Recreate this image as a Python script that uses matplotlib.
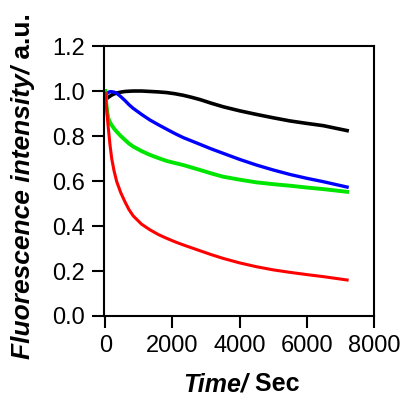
import matplotlib
matplotlib.use("Agg")
import matplotlib.pyplot as plt

time_s = [0, 20, 40, 65, 90, 140, 190, 260, 340, 460, 590, 700, 830, 1080, 1330, 1580,
          1830, 2070, 2320, 2570, 2820, 3150, 3510, 4000, 4500, 5000, 5500, 6000, 6490, 7200]
red = [0.99, 0.95, 0.92, 0.875, 0.834, 0.76, 0.70, 0.645, 0.597, 0.548, 0.506, 0.474, 0.445,
       0.408, 0.383, 0.362, 0.345, 0.330, 0.316, 0.303, 0.29, 0.273, 0.256, 0.236, 0.219,
       0.205, 0.194, 0.184, 0.175, 0.16]
green = [1.0, 0.96, 0.93, 0.90, 0.879, 0.86, 0.848, 0.833, 0.819, 0.80, 0.782, 0.767, 0.753,
         0.733, 0.716, 0.702, 0.689, 0.680, 0.671, 0.66, 0.649, 0.634, 0.619, 0.606, 0.594,
         0.586, 0.579, 0.571, 0.564, 0.552]
blue = [0.975, 0.982, 0.987, 0.991, 0.994, 0.997, 0.997, 0.995, 0.99, 0.975, 0.957, 0.94,
        0.923, 0.896, 0.871, 0.85, 0.83, 0.811, 0.793, 0.778, 0.763, 0.743, 0.723, 0.696,
        0.671, 0.649, 0.629, 0.612, 0.597, 0.573]
black = [0.965, 0.966, 0.967, 0.969, 0.972, 0.977, 0.982, 0.987, 0.991, 0.995, 0.998, 0.999,
         1.0, 1.0, 0.998, 0.996, 0.993, 0.988, 0.981, 0.972, 0.962, 0.946, 0.93, 0.912,
         0.896, 0.881, 0.867, 0.856, 0.846, 0.824]

xticks = [0, 2000, 4000, 6000, 8000]
yticks = [0.0, 0.2, 0.4, 0.6, 0.8, 1.0, 1.2]

plt.rcParams['font.family'] = ['Liberation Sans', 'DejaVu Sans']

fig = plt.figure(figsize=(4.03, 3.95), dpi=100)
ax = fig.add_axes([0.258, 0.2, 0.670, 0.6835])

ax.plot(time_s, black, color='black', lw=2.6)
ax.plot(time_s, blue, color='#0000ff', lw=2.4)
ax.plot(time_s, green, color='#00e600', lw=2.8)
ax.plot(time_s, red, color='#ff0000', lw=2.2)

ax.set_xlim(-40, 8000)
ax.set_ylim(0, 1.2)
ax.set_xticks(xticks)
ax.set_yticks(yticks)
ax.set_xticklabels([str(v) for v in xticks])
ax.set_yticklabels([f"{v:.1f}" for v in yticks])
ax.tick_params(direction='out', length=8.5, width=1.5, labelsize=17, pad=5.5)
for s in ax.spines.values():
    s.set_linewidth(1.5)

# Axis labels built from italic-bold + bold pieces
fig.canvas.draw()
r = fig.canvas.get_renderer()

# x label
xl_size = 18
t1 = fig.text(0, 0.009, "Time/", fontsize=xl_size, fontweight='bold', fontstyle='italic',
              ha='left', va='baseline')
t2 = fig.text(0, 0.009, " Sec", fontsize=xl_size, fontweight='bold', ha='left', va='baseline')
w1 = t1.get_window_extent(r).width
w2 = t2.get_window_extent(r).width
cx = 241.0
x0 = cx - (w1 + w2) / 2
t1.set_x(x0 / 403.0)
t2.set_x((x0 + w1) / 403.0)

# y label (rotated)
yl_size = 19
y1 = fig.text(0.058, 0, "Fluorescence intensity/", fontsize=yl_size, fontweight='bold',
              fontstyle='italic', rotation=90, ha='center', va='bottom')
y2 = fig.text(0.058, 0, " a.u.", fontsize=yl_size, fontweight='bold', rotation=90,
              ha='center', va='bottom')
h1 = y1.get_window_extent(r).height
h2 = y2.get_window_extent(r).height
cy = 395 - 186.5
yb = cy - (h1 + h2) / 2
y1.set_y(yb / 395.0)
y2.set_y((yb + h1) / 395.0)

fig.savefig("out.png", dpi=100)
